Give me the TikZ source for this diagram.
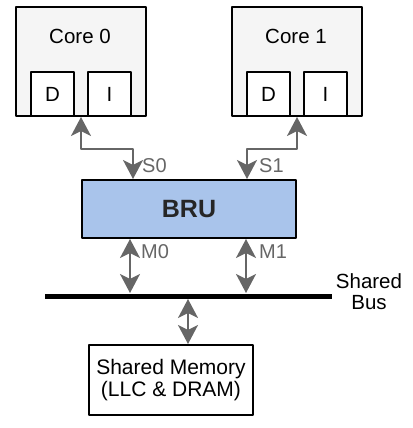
\documentclass[tikz,border=0pt]{standalone}
\usepackage{fontspec}
\setmainfont{Liberation Sans}
\usetikzlibrary{arrows.meta}
\definecolor{corefill}{HTML}{F5F5F5}
\definecolor{brufill}{HTML}{A9C4EB}
\definecolor{linkgray}{HTML}{666666}
\begin{document}
\begin{tikzpicture}[x=1pt,y=-1pt,line join=round,font=\fontsize{20.5}{22}\selectfont,
		box/.style={draw,line width=2pt,inner sep=0pt,anchor=north west},
		link/.style={draw=linkgray,line width=2pt,
			arrows={Stealth[length=19pt,width=20pt,inset=5pt]-Stealth[length=19pt,width=20pt,inset=5pt]}},
		lbl/.style={text=linkgray,anchor=west,inner sep=0pt,font=\fontsize{20}{22}\selectfont}]
	\useasboundingbox (0,0) rectangle (412,428);
	% cores with their D and I caches
	\foreach \c/\x in {0/15,1/231}{
		\node[box,fill=corefill,minimum width=130pt,minimum height=109pt] (core\c) at (\x,6) {};
		\node (name\c) at (\x+65,36) {Core \c};
		\node[box,fill=white,minimum width=43pt,minimum height=44pt] (d\c) at (\x+15,71) {};
		\node at (d\c.center) {D};
		\node[box,fill=white,minimum width=43pt,minimum height=44pt] (i\c) at (\x+72,71) {};
		\node at (i\c.center) {I};
	}
	\node[box,fill=brufill,minimum width=214pt,minimum height=58pt] (bru) at (81,179) {};
	\node[font=\fontsize{25}{28}\selectfont\bfseries,text=black!85] at (bru.center) {BRU};
	\coordinate (busL) at (45,296);
	\coordinate (busR) at (332,296);
	\draw[line width=5pt] (busL) -- (busR);
	\node[align=center,font=\fontsize{20.5}{21}\selectfont] (buslbl) at (369,292) {Shared\\Bus};
	\node[box,minimum width=164pt,minimum height=70pt] (mem) at (88,344) {};
	\node[align=center,font=\fontsize{21}{21.5}\selectfont] at (mem.center) {Shared Memory\\(LLC \& DRAM)};
	% links
	\draw[link] (core0.south) -- ++(0,32) -| ([xshift=-56pt]bru.north);
	\draw[link] (core1.south) -- ++(0,32) -| ([xshift=58pt]bru.north);
	\coordinate (m0) at (130,293);
	\coordinate (m1) at (246,293);
	\draw[link] (bru.south -| m0) -- (m0);
	\draw[link] (bru.south -| m1) -- (m1);
	\coordinate (memtop) at (188,299);
	\draw[link] (memtop) -- (memtop |- mem.north);
	\node[lbl] (s0) at (142,166) {S0};
	\node[lbl] (s1) at (259,166) {S1};
	\node[lbl] (mlbl0) at (141,252) {M0};
	\node[lbl] (mlbl1) at (259,252) {M1};
\end{tikzpicture}
\end{document}
